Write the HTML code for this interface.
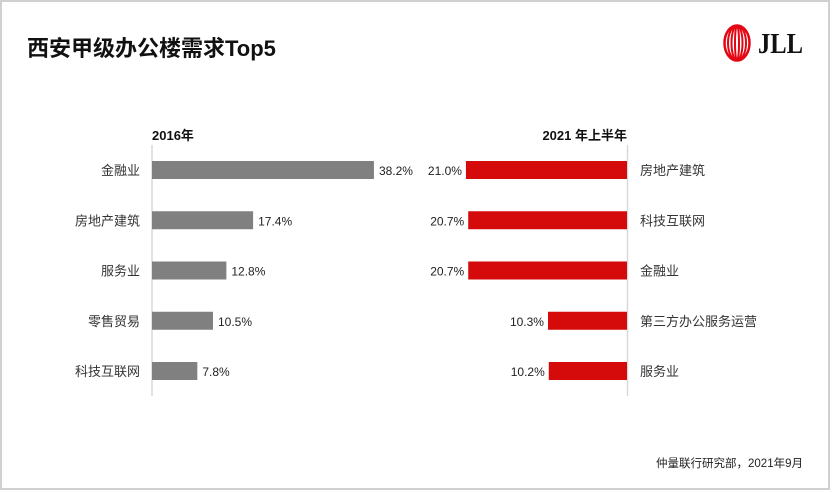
<!DOCTYPE html>
<html><head><meta charset="utf-8">
<style>
html,body{margin:0;padding:0;background:#fff;}
body{width:833px;height:493px;overflow:hidden;position:relative;font-family:"Liberation Sans","Noto Sans CJK SC",sans-serif;}
</style></head>
<body>
<svg id="c" width="833" height="493" xmlns="http://www.w3.org/2000/svg" style="position:absolute;left:0;top:0">
<rect x="1" y="1" width="828" height="488" fill="#fff" stroke="#d0d0d0" stroke-width="2"/>
<text x="27" y="56" font-size="22" font-weight="bold" fill="#111" font-family="Liberation Sans,Noto Sans CJK SC,sans-serif">西安甲级办公楼需求Top5</text>
<g>
<ellipse cx="737" cy="43" rx="12.5" ry="17.5" fill="none" stroke="#e30613" stroke-width="2.5"/>
<ellipse cx="737" cy="43" rx="9" ry="17.5" fill="none" stroke="#e30613" stroke-width="2"/>
<ellipse cx="737" cy="43" rx="5.5" ry="17.5" fill="none" stroke="#e30613" stroke-width="2"/>
<ellipse cx="737" cy="43" rx="2" ry="17.5" fill="none" stroke="#e30613" stroke-width="2"/>
<text x="758" y="53" font-size="28" font-weight="bold" fill="#111" font-family="Liberation Serif,serif" textLength="45" lengthAdjust="spacingAndGlyphs">JLL</text>
</g>
<text x="152" y="140" font-size="13" font-weight="bold" fill="#111">2016年</text>
<text x="627" y="140" font-size="13" font-weight="bold" fill="#111" text-anchor="end">2021 年上半年</text>
<line x1="152" y1="145" x2="152" y2="396" stroke="#d9d9d9" stroke-width="1.5"/>
<line x1="627.5" y1="145" x2="627.5" y2="396" stroke="#d9d9d9" stroke-width="1.5"/>
<g id="bars"></g>
<text x="803" y="467" font-size="11.5" fill="#222" text-anchor="end">仲量联行研究部，2021年9月</text>
</svg>
<script>
const leftCats=["金融业","房地产建筑","服务业","零售贸易","科技互联网"];
const leftVals=[38.2,17.4,12.8,10.5,7.8];
const rightCats=["房地产建筑","科技互联网","金融业","第三方办公服务运营","服务业"];
const rightVals=[21.0,20.7,20.7,10.3,10.2];
const NS="http://www.w3.org/2000/svg";
const g=document.getElementById('bars');
function yPos(i){return 170+i*50.25;}
function xL(v){return v*5.81;}
function xR(v){return v*7.67;}
function mk(tag,attrs,txt){const e=document.createElementNS(NS,tag);for(const k in attrs)e.setAttribute(k,attrs[k]);if(txt!==undefined)e.textContent=txt;g.appendChild(e);return e;}
leftVals.forEach((v,i)=>{
 const y=yPos(i);const w=xL(v);
 let r=mk('rect',{x:152,y:y-9,width:w,height:18,fill:'#808080'});
 
 
 let l=mk('text',{x:140,y:y+5,'font-size':13,fill:'#333','text-anchor':'end'},leftCats[i]);
 
 
 let t=mk('text',{x:152+w+5,y:y+5,'font-size':12,fill:'#222'},v.toFixed(1)+'%');
 
 
});
rightVals.forEach((v,i)=>{
 const y=yPos(i);const w=xR(v);
 let r=mk('rect',{x:627-w,y:y-9,width:w,height:18,fill:'#d50a0a'});
 
 
 let l=mk('text',{x:640,y:y+5,'font-size':13,fill:'#333'},rightCats[i]);
 
 
 let t=mk('text',{x:627-w-4,y:y+5,'font-size':12,fill:'#222','text-anchor':'end'},v.toFixed(1)+'%');
 
 
});
</script>
</body></html>
